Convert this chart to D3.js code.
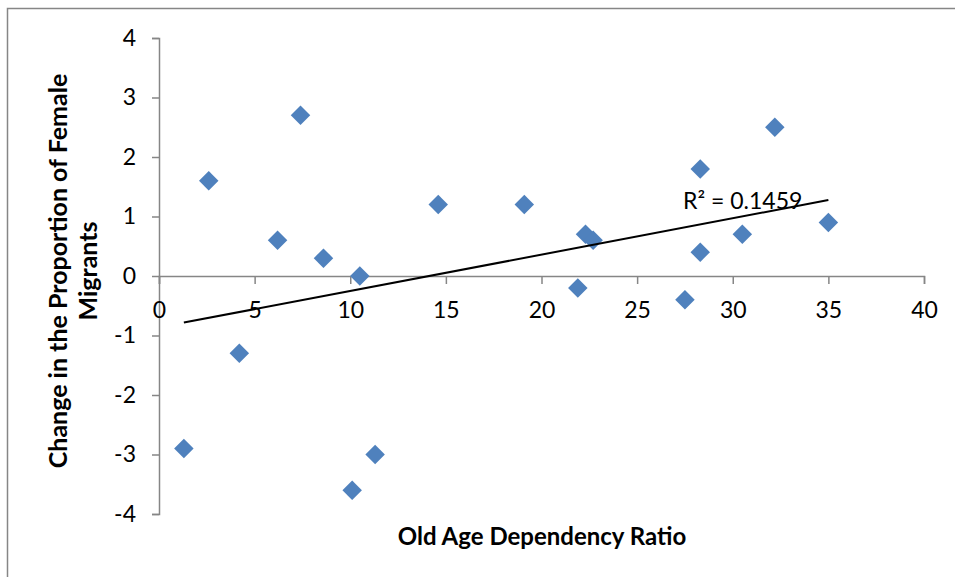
<!DOCTYPE html>
<html><head><meta charset="utf-8">
<script src="https://cdn.jsdelivr.net/npm/d3@7"></script>
<style>body{margin:0;background:#fff} svg{display:block}</style>
</head><body><svg id="c" width="955" height="577"></svg>
<script>
const xValues = [1.3, 2.6, 4.2, 6.2, 7.4, 8.6, 10.1, 10.5, 11.3, 14.6, 19.1, 21.9, 22.3, 22.7, 27.5, 28.3, 28.3, 30.5, 32.2, 35.0];
const yValues = [-2.9, 1.6, -1.3, 0.6, 2.7, 0.3, -3.6, 0.0, -3.0, 1.2, 1.2, -0.2, 0.7, 0.6, -0.4, 1.8, 0.4, 0.7, 2.5, 0.9];
const xTicks = [0, 5, 10, 15, 20, 25, 30, 35, 40];
const yTicks = [-4, -3, -2, -1, 0, 1, 2, 3, 4];
const r2Label = "R² = 0.1459";
const xTitle = "Old Age Dependency Ratio";
const yTitleLines = ["Change in the Proportion of Female", "Migrants"];

const FONT = "Lato, 'Open Sans', sans-serif";
const AXIS_COL = "#868686";
const MARK_COL = "#4F81BD";

const svg = d3.select("#c");
svg.append("rect").attr("width", 955).attr("height", 577).attr("fill", "#fff");
// outer chart frame (extends past the right and bottom edges)
svg.append("rect").attr("x", 7.5).attr("y", 8.5).attr("width", 1000).attr("height", 700)
  .attr("fill", "none").attr("stroke", AXIS_COL).attr("stroke-width", 1.5);

const x = d3.scaleLinear().domain([0, 40]).range([159, 924]);
const y = d3.scaleLinear().domain([-4, 4]).range([514, 38]);

// y axis
const gy = svg.append("g").attr("transform", `translate(${x(0)},0)`)
  .call(d3.axisLeft(y).tickValues(yTicks).tickSize(7).tickPadding(16).tickFormat(d => String(d)));
// x axis at y=0
const gx = svg.append("g").attr("transform", `translate(0,${y(0)})`)
  .call(d3.axisBottom(x).tickValues(xTicks).tickSize(8).tickPadding(18).tickFormat(d => String(d)));

[gx, gy].forEach(g => {
  g.select(".domain").attr("stroke", AXIS_COL).attr("stroke-width", 1.5);
  g.selectAll(".tick line").attr("stroke", AXIS_COL).attr("stroke-width", 1.5);
  g.selectAll(".tick text").attr("fill", "#000").style("font-family", FONT).style("font-size", "23px");
});

// trendline (least squares from the data)
const n = xValues.length;
const mx = d3.mean(xValues), my = d3.mean(yValues);
let sxy = 0, sxx = 0;
for (let i = 0; i < n; i++) { sxy += (xValues[i] - mx) * (yValues[i] - my); sxx += (xValues[i] - mx) ** 2; }
const slope = sxy / sxx, icpt = my - slope * mx;
const [x0, x1] = d3.extent(xValues);

// points
const pts = xValues.map((v, i) => ({ x: v, y: yValues[i] }));
svg.append("g").selectAll("path").data(pts).join("path")
  .attr("d", d3.symbol(d3.symbolSquare, 190)())
  .attr("transform", d => `translate(${x(d.x)},${y(d.y)}) rotate(45)`)
  .attr("fill", MARK_COL);

svg.append("line")
  .attr("x1", x(x0)).attr("y1", y(slope * x0 + icpt))
  .attr("x2", x(x1)).attr("y2", y(slope * x1 + icpt))
  .attr("stroke", "#000").attr("stroke-width", 2);

svg.append("text").attr("x", 683).attr("y", 209)
  .style("font-family", FONT).style("font-size", "23px").attr("fill", "#000")
  .text(r2Label);

// titles
svg.append("text").attr("x", 542).attr("y", 545).attr("text-anchor", "middle")
  .style("font-family", FONT).style("font-size", "24px").style("font-weight", "bold")
  .text(xTitle);

const yt = svg.append("text").attr("transform", "translate(0,271) rotate(-90)")
  .attr("text-anchor", "middle")
  .style("font-family", FONT).style("font-size", "25px").style("font-weight", "bold");
yTitleLines.forEach((t, i) => {
  yt.append("tspan").attr("x", 0).attr("y", 67 + i * 30).text(t);
});
</script></body></html>
